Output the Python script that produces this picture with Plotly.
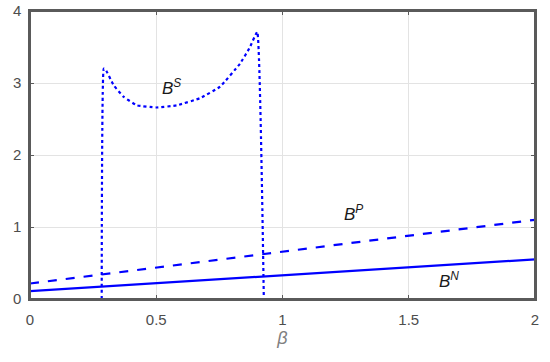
"""B^N, B^P and B^S against beta
"""
import plotly.graph_objects as go

# values
beta = [0.0, 2.0]
b_n = [0.11, 0.55]
b_p = [0.215, 1.10]

beta_s = [0.284, 0.292, 0.299, 0.331, 0.370, 0.423, 0.50, 0.582,
          0.674, 0.753, 0.832, 0.870, 0.900, 0.926]
b_s = [0.0, 3.20, 3.19, 2.97, 2.81, 2.69, 2.66, 2.69,
       2.79, 2.95, 3.27, 3.49, 3.71, 0.0]

x_ticks = [0, 0.5, 1, 1.5, 2]
x_labels = ['0', '0.5', '1', '1.5', '2']
y_ticks = [0, 1, 2, 3, 4]

BLUE = '#0000ff'
GREY = '#4d4d4d'
FRAME = '#5a5a5a'
FONT = 'Arial, Liberation Sans, Helvetica, sans-serif'


def main():
    fig = go.Figure()
    fig.add_trace(go.Scatter(x=beta, y=b_n, mode='lines',
                             line=dict(color=BLUE, width=2.2)))
    fig.add_trace(go.Scatter(x=beta, y=b_p, mode='lines',
                             line=dict(color=BLUE, width=2.2, dash='dash')))
    fig.add_trace(go.Scatter(x=beta_s, y=b_s, mode='lines',
                             line=dict(color=BLUE, width=2.2, dash='dot',
                                       shape='spline', smoothing=0.3)))

    # curve labels
    labels = [(0.56, 2.95, 'S'), (1.28, 1.2, 'P'), (1.66, 0.27, 'N')]
    for x, y, sup in labels:
        fig.add_annotation(x=x, y=y, text='<i>B</i><sup><i>%s</i></sup>' % sup,
                           showarrow=False,
                           font=dict(family=FONT, size=17, color='#1a1a1a'))

    # matlab style box round the axes
    fig.add_shape(type='rect', xref='paper', yref='paper', x0=0, y0=0, x1=1, y1=1,
                  line=dict(color=FRAME, width=2), layer='above')

    axis = dict(showline=True, linecolor=FRAME, linewidth=1.5, mirror='ticks',
                ticks='inside', ticklen=4, tickcolor=FRAME, automargin=False,
                showgrid=True, gridcolor='#e3e3e3', gridwidth=1, zeroline=False,
                tickfont=dict(family=FONT, size=15, color=GREY))

    fig.update_layout(
        width=550, height=362,
        margin=dict(l=30, r=15, t=11, b=63),
        paper_bgcolor='white', plot_bgcolor='white',
        showlegend=False,
        xaxis=dict(axis, range=[0, 2], tickvals=x_ticks, ticktext=x_labels,
                   ticklabelstandoff=6,
                   title=dict(text='<i>β</i>', standoff=4,
                              font=dict(family=FONT, size=18, color='#808080'))),
        yaxis=dict(axis, range=[0, 4], tickvals=y_ticks, ticklabelstandoff=4),
    )
    # drop the page's default body margin so the figure sits at (0, 0)
    fig.write_html('out.html', config={'displayModeBar': False},
                   post_script="document.body.style.margin='0px';")


if __name__ == '__main__':
    main()
